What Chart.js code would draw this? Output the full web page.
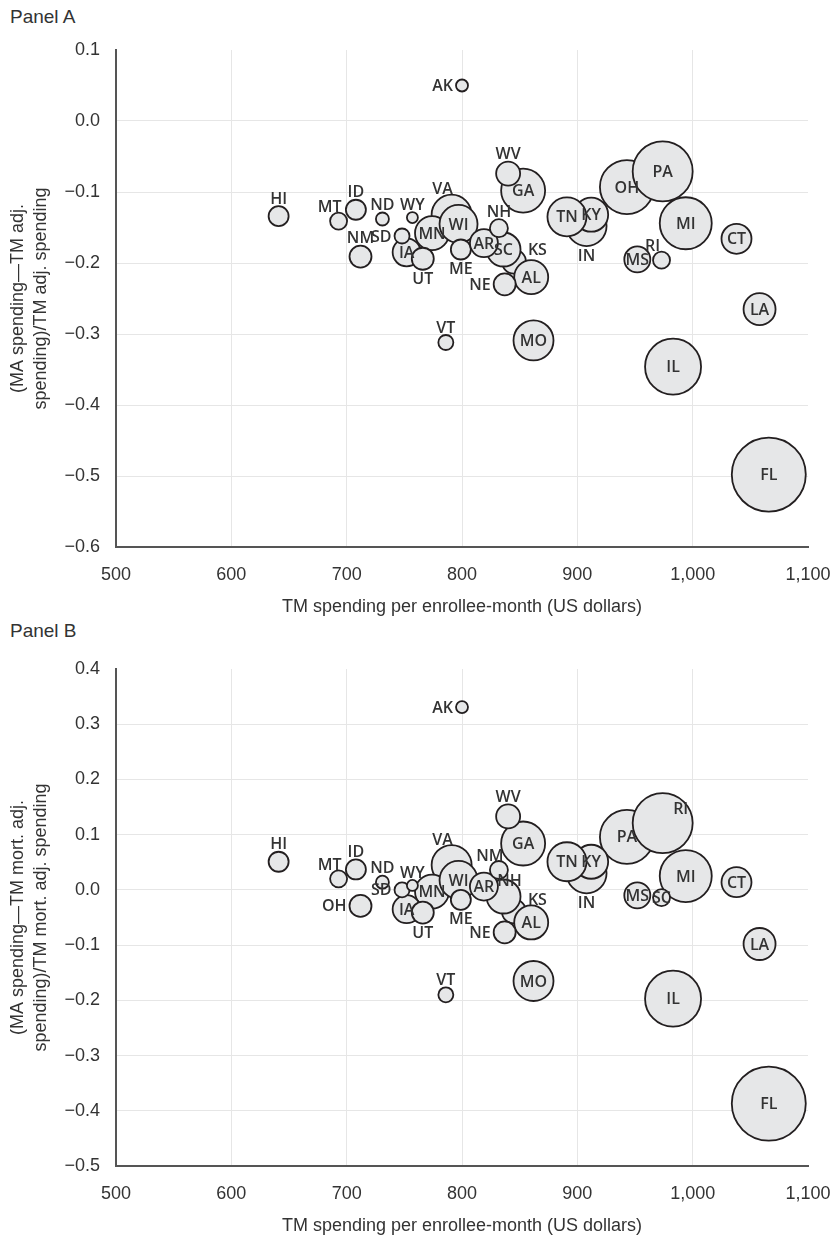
<!DOCTYPE html>
<html>
<head>
<meta charset="utf-8">
<script src="https://cdn.jsdelivr.net/npm/chart.js@4/dist/chart.umd.min.js"></script>
<style>
  html, body { margin: 0; padding: 0; background: #fff; overflow: hidden; }
  body { width: 834px; height: 1238px; position: relative; font-family: "Liberation Sans", Arial, sans-serif; }
  .panel-title { position: absolute; left: 10px; font-size: 19px; color: #333; }
  .box { position: absolute; left: 0; width: 834px; height: 581px; }
</style>
</head>
<body>
<div class="panel-title" style="top:6px">Panel A</div>
<div class="box" style="top:38px"><canvas id="panelA"></canvas></div>
<div class="panel-title" style="top:620px">Panel B</div>
<div class="box" style="top:657px"><canvas id="panelB"></canvas></div>
<script>
// states in drawing order (bigger bubbles first so small ones sit on top)
const states = ["FL","IL","OH","PA","MI","GA","VA","MO","IN","KY","TN","MN","WI","ME","KS","AL","SC","AR","LA","CT","IA","UT","MS","NE","WV","NM","HI","ID","NH","MT","RI","SD","VT","ND","AK","WY"];

// TM spending per enrollee-month (US dollars)
const tmSpending = [1066, 983, 943, 974, 994, 853, 791, 862, 908, 912, 891, 774, 797, 799, 845, 860, 836, 819, 1058, 1038, 752, 766, 952, 837, 840, 712, 641, 708, 832, 693, 973, 748, 786, 731, 800, 757];

// bubble size (enrollment)
const bubbleSize = [37, 28, 27, 30, 26, 22, 20, 20, 20, 17, 19.5, 17, 19, 10, 12, 17, 17, 14, 16, 15, 14, 11, 13, 11, 12, 11, 10, 10, 9, 8.5, 8.5, 7.5, 7.5, 6.5, 6, 5.5];

// Panel A: (MA spending - TM adj. spending) / TM adj. spending
const gapAdj = [-0.498, -0.346, -0.093, -0.071, -0.144, -0.098, -0.132, -0.309, -0.148, -0.132, -0.135, -0.158, -0.145, -0.181, -0.198, -0.220, -0.181, -0.172, -0.265, -0.166, -0.185, -0.194, -0.195, -0.230, -0.074, -0.191, -0.134, -0.125, -0.151, -0.141, -0.196, -0.162, -0.312, -0.138, 0.050, -0.136];

// Panel B: (MA spending - TM mort. adj. spending) / TM mort. adj. spending
const gapMortAdj = [-0.387, -0.197, 0.096, 0.121, 0.025, 0.084, 0.045, -0.165, 0.030, 0.051, 0.051, -0.003, 0.018, -0.018, -0.039, -0.059, -0.012, 0.006, -0.098, 0.014, -0.035, -0.041, -0.010, -0.077, 0.133, -0.029, 0.051, 0.037, 0.036, 0.020, -0.014, 0.000, -0.190, 0.014, 0.331, 0.008];

// labels as printed in panel B
const labelsB = ["FL","IL","PA","RI","MI","GA","VA","MO","IN","KY","TN","MN","WI","ME","KS","AL","NH","AR","LA","CT","IA","UT","MS","NE","WV","OH","HI","ID","NM","MT","SC","SD","VT","ND","AK","WY"];

// where each label sits relative to its bubble
const spotsA = ["c","c","c","c","c","c","al","c","b","c","c","c","c","b","ar","c","c","c","c","c","c","b","c","l","a","a","a","a","a","al","al","l","a","a","l","a"];
const spotsB = ["c","c","c","ur","c","c","al","c","b","c","c","c","c","b","ar","c","t","c","c","c","c","b","c","l","a","l","a","a","al","al","c","l","a","a","l","a"];

const xTicks = [500, 600, 700, 800, 900, 1000, 1100];

Chart.defaults.font.family = '"Liberation Sans", Arial, sans-serif';
Chart.defaults.color = "#333";

// draws the state abbreviations
const bubbleLabels = {
  id: "bubbleLabels",
  afterDatasetsDraw(chart, args, opts) {
    const ctx = chart.ctx;
    const meta = chart.getDatasetMeta(0);
    ctx.save();
    ctx.font = '600 16px "Open Sans"';
    ctx.fillStyle = "#333";
    ctx.textAlign = "center";
    ctx.textBaseline = "middle";
    meta.data.forEach((pt, i) => {
      const r = bubbleSize[i];
      const txt = opts.labels[i];
      const w = ctx.measureText(txt).width;
      let x = pt.x, y = pt.y;
      switch (opts.spots[i]) {
        case "a": y -= r + 8; break;
        case "b": y += r + 9; break;
        case "l": x -= r + 3 + w / 2; break;
        case "al": x -= 9; y -= r + 6; break;
        case "ar": x += r + 2 + w / 2; y -= r; break;
        case "t": x += 6; y -= r - 1; break;
        case "ur": x += r * 0.6; y -= r * 0.48; break;
      }
      ctx.fillText(txt, x, y + 1);
    });
    ctx.restore();
  }
};

function fmtY(v) {
  if (Math.abs(v) < 1e-9) return "0.0";
  return (v < 0 ? "\u2212" : "") + Math.abs(v).toFixed(1);
}

function makePanel(id, gaps, labels, spots, yMin, yMax, yTitle) {
  const points = states.map((s, i) => ({ x: tmSpending[i], y: gaps[i], r: bubbleSize[i] }));
  new Chart(document.getElementById(id), {
    type: "bubble",
    data: {
      datasets: [{
        data: points,
        backgroundColor: "#e6e7e8",
        borderColor: "#231f20",
        borderWidth: 1.8,
        clip: false
      }]
    },
    options: {
      responsive: true,
      maintainAspectRatio: false,
      animation: false,
      events: [],
      layout: { autoPadding: false, padding: { top: 12, right: 26, bottom: 0, left: 0 } },
      plugins: {
        legend: { display: false },
        tooltip: { enabled: false },
        bubbleLabels: { labels: labels, spots: spots }
      },
      scales: {
        x: {
          type: "linear",
          min: 500,
          max: 1100,
          afterBuildTicks: (scale) => { scale.ticks = xTicks.map(v => ({ value: v })); },
          afterFit: (scale) => {
            scale.height = 72;
            scale.paddingLeft = 0;
            scale.paddingRight = 0;
          },
          grid: {
            drawTicks: false,
            color: (c) => c.tick && c.tick.value === 1100 ? "rgba(0,0,0,0)" : "#e6e6e6",
            lineWidth: 1
          },
          border: { color: "#555", width: 2 },
          ticks: {
            padding: 17,
            font: { size: 18 },
            color: "#333",
            callback: (v) => v.toLocaleString("en-US")
          },
          title: {
            display: true,
            text: "TM spending per enrollee-month (US dollars)",
            font: { size: 18 },
            color: "#333",
            padding: { top: 0, bottom: 1 }
          }
        },
        y: {
          min: yMin,
          max: yMax,
          afterFit: (scale) => {
            scale.width = 116;
            scale.paddingTop = 0;
            scale.paddingBottom = 0;
          },
          grid: {
            drawTicks: false,
            color: (c) => c.tick && Math.abs(c.tick.value - yMax) < 1e-9 ? "rgba(0,0,0,0)" : "#e6e6e6",
            lineWidth: 1
          },
          border: { color: "#555", width: 2 },
          ticks: {
            stepSize: 0.1,
            padding: 16,
            font: { size: 18 },
            color: "#333",
            callback: fmtY
          },
          title: {
            display: true,
            text: yTitle,
            font: { size: 18, lineHeight: 1.25 },
            color: "#333",
            padding: { top: 7, bottom: 0 }
          }
        }
      }
    },
    plugins: [bubbleLabels]
  });
}

makePanel("panelA", gapAdj, states, spotsA, -0.6, 0.1,
  ["(MA spending\u2014TM adj.", "spending)/TM adj. spending"]);
makePanel("panelB", gapMortAdj, labelsB, spotsB, -0.5, 0.4,
  ["(MA spending\u2014TM mort. adj.", "spending)/TM mort. adj. spending"]);
</script>
</body>
</html>
